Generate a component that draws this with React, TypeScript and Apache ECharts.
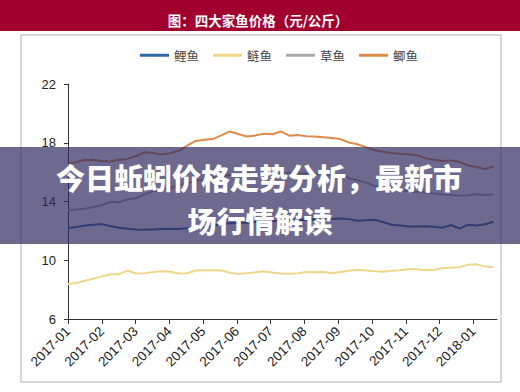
import React, { useEffect, useRef } from "react";
import * as echarts from "echarts";

const months = ["2017-01","2017-02","2017-03","2017-04","2017-05","2017-06","2017-07","2017-08","2017-09","2017-10","2017-11","2017-12","2018-01"];
const seriesNames = ["鲤鱼", "鲢鱼", "草鱼", "鲫鱼"];
const STEP = 0.252; // months between samples (about weekly)

const liyu = [12.2,12.26,12.36,12.42,12.46,12.32,12.22,12.15,12.1,12.08,12.1,12.12,12.14,12.13,12.18,12.2,12.25,12.35,12.45,12.52,12.53,12.56,12.6,12.64,12.66,12.7,12.72,12.76,12.74,12.78,12.8,12.82,12.85,12.8,12.69,12.72,12.76,12.6,12.42,12.36,12.3,12.3,12.32,12.28,12.22,12.4,12.15,12.42,12.36,12.45,12.62];
const lianyu = [8.38,8.45,8.6,8.75,8.9,9.05,9.05,9.3,9.1,9.12,9.2,9.25,9.22,9.1,9.12,9.3,9.32,9.32,9.3,9.15,9.06,9.12,9.18,9.25,9.17,9.1,9.08,9.12,9.2,9.18,9.22,9.12,9.2,9.28,9.35,9.3,9.25,9.22,9.28,9.32,9.38,9.38,9.32,9.35,9.45,9.5,9.52,9.7,9.72,9.58,9.52];
const caoyu = [13.42,13.45,13.5,13.62,13.75,13.98,13.95,14.15,14.22,14.5,14.7,14.8,14.92,15.1,15.25,15.4,15.5,15.6,15.7,15.8,15.82,15.9,15.85,15.92,15.95,15.9,15.96,15.9,15.92,15.88,15.85,15.82,15.8,15.6,15.45,15.3,15.05,14.95,14.82,14.75,14.7,14.65,14.62,14.55,14.48,14.45,14.4,14.42,14.5,14.45,14.48];
const jiyu = [16.55,16.7,16.82,16.85,16.75,16.72,16.85,16.9,17.1,17.35,17.3,17.2,17.28,17.45,17.8,18.12,18.2,18.25,18.5,18.77,18.6,18.43,18.5,18.62,18.58,18.77,18.48,18.52,18.45,18.42,18.38,18.32,18.25,18.02,17.9,17.7,17.5,17.38,17.3,17.25,17.22,17.15,16.95,16.85,16.75,16.8,16.7,16.45,16.35,16.2,16.4];
const yTicks = [6, 10, 14, 18, 22];

const colors = ["#2f68a5", "#f0d68a", "#a8a8a8", "#dc8b4c"];
const chartTitle = "图：四大家鱼价格（元/公斤）";
const bannerLine1 = "今日蚯蚓价格走势分析，最新市";
const bannerLine2 = "场行情解读";

export default function App() {
  const ref = useRef<HTMLDivElement>(null);
  useEffect(() => {
    if (!ref.current) return;
    const chart = echarts.init(ref.current, undefined, { renderer: "svg" });
    const all = [liyu, lianyu, caoyu, jiyu];
    const tickVals = months.map((_, i) => i);
    chart.setOption({
      animation: false,
      backgroundColor: "#ffffff",
      color: colors,
      legend: {
        data: seriesNames,
        left: 135,
        top: 44,
        icon: "rect",
        itemWidth: 29,
        itemHeight: 3,
        itemGap: 14,
        textStyle: { fontSize: 12.5, color: "#444", fontFamily: "Noto Sans CJK SC" },
      },
      grid: { left: 68, right: 23, top: 84, bottom: 73 },
      xAxis: {
        type: "value",
        min: 0,
        max: 12.7,
        interval: 1,
        axisLine: { show: true, lineStyle: { color: "#333", width: 1 } },
        axisTick: { show: true, length: 5, lineStyle: { color: "#333" }, customValues: tickVals },
        axisLabel: {
          rotate: 45,
          margin: 10,
          fontSize: 13.5,
          color: "#222",
          fontFamily: "Liberation Sans, Arial",
          customValues: tickVals,
          formatter: (v: number) => months[Math.round(v)] ?? "",
        },
        splitLine: { show: false },
      },
      yAxis: {
        type: "value",
        min: yTicks[0],
        max: yTicks[yTicks.length - 1],
        interval: 4,
        axisLine: { show: true, lineStyle: { color: "#333", width: 1 } },
        axisTick: { show: true, length: 4, lineStyle: { color: "#333" } },
        axisLabel: { margin: 12, fontSize: 13, color: "#222", fontFamily: "Liberation Sans, Arial" },
        splitLine: { show: false },
      },
      series: all.map((arr, k) => ({
        name: seriesNames[k],
        type: "line",
        showSymbol: false,
        symbol: "none",
        lineStyle: { width: 2, color: colors[k] },
        itemStyle: { color: colors[k] },
        data: arr.map((v, i) => [i * STEP, v]),
      })),
      graphic: [
        { type: "rect", z: 1, shape: { x: 0, y: 0, width: 520, height: 31 }, style: { fill: "#a1002f" } },
        {
          type: "text", z: 2, x: 258, y: 20,
          style: { text: chartTitle, fill: "#ffffff", fontSize: 13.5, fontWeight: "bold", fontFamily: "Noto Sans CJK SC", textAlign: "center", textVerticalAlign: "middle", align: "center", verticalAlign: "middle" },
        },
        { type: "rect", z: 0, shape: { x: 21, y: 35, width: 480, height: 347 }, style: { fill: "none", stroke: "#c9c9c9", lineWidth: 1.5 } },
        { type: "rect", z: 100, shape: { x: 0, y: 147, width: 520, height: 97 }, style: { fill: "rgba(48,42,95,0.7)" } },
        {
          type: "text", z: 101, x: 259, y: 177,
          style: { text: bannerLine1, fill: "#ffffff", fontSize: 29, fontWeight: 900, fontFamily: "Noto Sans CJK SC", textAlign: "center", textVerticalAlign: "middle", align: "center", verticalAlign: "middle" },
        },
        {
          type: "text", z: 101, x: 260, y: 220,
          style: { text: bannerLine2, fill: "#ffffff", fontSize: 29, fontWeight: 900, fontFamily: "Noto Sans CJK SC", textAlign: "center", textVerticalAlign: "middle", align: "center", verticalAlign: "middle" },
        },
      ],
    });
    return () => chart.dispose();
  }, []);
  return <div ref={ref} style={{ position: "fixed", left: 0, top: 0, width: 520, height: 392 }} />;
}
